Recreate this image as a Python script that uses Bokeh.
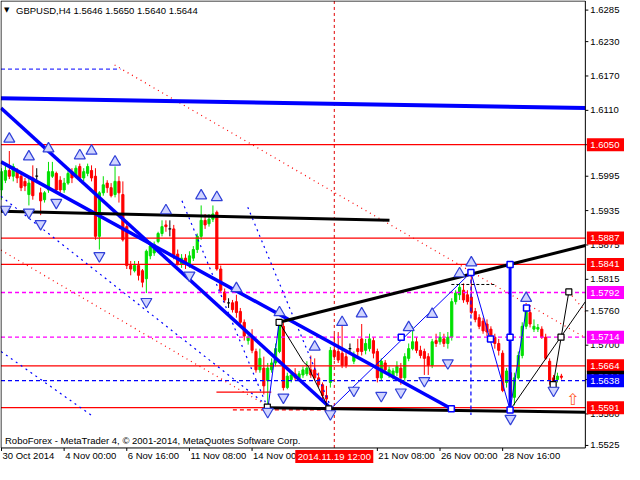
from bokeh.plotting import figure
from bokeh.models import Range1d
from bokeh.embed import file_html
from bokeh.resources import INLINE
from bokeh.core.properties import value

FONT = "Liberation Sans"
FS = "9.5px"

# ---------------- data: GBPUSD H4 candles (bar index 0 = 30 Oct 2014) ----------------
opens = [1.5971, 1.5988, 1.6005, 1.5995, 1.6003, 1.5995, 1.5986, 1.5963, 1.5992, 1.5995,
         1.5966, 1.5954, 1.5971, 1.5995, 1.6000, 1.5988, 1.5971, 1.5983, 1.6003, 1.5995,
         1.6012, 1.5992, 1.6000, 1.6005, 1.5995, 1.5890, 1.5966, 1.5983, 1.5975, 1.5963,
         1.5986, 1.5963, 1.5907, 1.5839, 1.5830, 1.5839, 1.5830, 1.5816, 1.5856, 1.5861,
         1.5881, 1.5895, 1.5910, 1.5903, 1.5903, 1.5859, 1.5842, 1.5852, 1.5842, 1.5852,
         1.5867, 1.5890, 1.5918, 1.5912, 1.5920, 1.5932, 1.5833, 1.5793, 1.5774, 1.5774,
         1.5776, 1.5759, 1.5740, 1.5708, 1.5714, 1.5689, 1.5657, 1.5660, 1.5638, 1.5657,
         1.5669, 1.5689, 1.5733, 1.5626, 1.5640, 1.5650, 1.5643, 1.5648, 1.5650, 1.5657,
         1.5657, 1.5643, 1.5631, 1.5612, 1.5635, 1.5691, 1.5689, 1.5686, 1.5680, 1.5694,
         1.5672, 1.5694, 1.5711, 1.5691, 1.5694, 1.5708, 1.5689, 1.5643, 1.5669, 1.5648,
         1.5646, 1.5652, 1.5660, 1.5643, 1.5677, 1.5694, 1.5706, 1.5691, 1.5689, 1.5680,
         1.5665, 1.5708, 1.5706, 1.5711, 1.5703, 1.5714, 1.5776, 1.5788, 1.5796, 1.5788,
         1.5784, 1.5759, 1.5748, 1.5742, 1.5737, 1.5728, 1.5714, 1.5703, 1.5686, 1.5635,
         1.5652, 1.5609, 1.5643, 1.5682, 1.5733, 1.5757, 1.5728, 1.5728, 1.5728, 1.5714,
         1.5672, 1.5643, 1.5640, 1.5646]
highs = [1.6009, 1.6014, 1.6039, 1.6017, 1.6009, 1.6003, 1.5992, 1.5992, 1.6014, 1.6009,
         1.5975, 1.5969, 1.6020, 1.6020, 1.6003, 1.5995, 1.5992, 1.6009, 1.6009, 1.6014,
         1.6017, 1.6009, 1.6017, 1.6014, 1.6009, 1.5969, 1.5995, 1.5988, 1.5983, 1.6012,
         1.5995, 1.5986, 1.5912, 1.5847, 1.5847, 1.5847, 1.5833, 1.5867, 1.5881, 1.5881,
         1.5898, 1.5918, 1.5918, 1.5918, 1.5910, 1.5867, 1.5859, 1.5859, 1.5864, 1.5873,
         1.5895, 1.5944, 1.5929, 1.5929, 1.5944, 1.5935, 1.5839, 1.5799, 1.5782, 1.5779,
         1.5788, 1.5765, 1.5745, 1.5720, 1.5728, 1.5694, 1.5694, 1.5680, 1.5669, 1.5677,
         1.5703, 1.5742, 1.5740, 1.5652, 1.5655, 1.5660, 1.5655, 1.5663, 1.5672, 1.5682,
         1.5677, 1.5652, 1.5635, 1.5629, 1.5697, 1.5720, 1.5723, 1.5737, 1.5691, 1.5703,
         1.5689, 1.5711, 1.5737, 1.5711, 1.5720, 1.5714, 1.5694, 1.5677, 1.5674, 1.5663,
         1.5660, 1.5672, 1.5669, 1.5686, 1.5703, 1.5733, 1.5714, 1.5699, 1.5694, 1.5686,
         1.5711, 1.5720, 1.5723, 1.5720, 1.5723, 1.5782, 1.5796, 1.5808, 1.5808, 1.5796,
         1.5827, 1.5765, 1.5754, 1.5748, 1.5745, 1.5733, 1.5720, 1.5711, 1.5691, 1.5660,
         1.5655, 1.5652, 1.5689, 1.5740, 1.5765, 1.5762, 1.5745, 1.5737, 1.5733, 1.5720,
         1.5677, 1.5648, 1.5652, 1.5650]
lows = [1.5954, 1.5983, 1.5990, 1.5986, 1.5983, 1.5969, 1.5969, 1.5944, 1.5954, 1.5983,
        1.5927, 1.5949, 1.5966, 1.5992, 1.5966, 1.5966, 1.5966, 1.5980, 1.5983, 1.5992,
        1.5986, 1.5986, 1.5995, 1.5986, 1.5884, 1.5867, 1.5961, 1.5966, 1.5958, 1.5958,
        1.5949, 1.5881, 1.5833, 1.5822, 1.5827, 1.5813, 1.5801, 1.5791, 1.5850, 1.5856,
        1.5878, 1.5890, 1.5898, 1.5890, 1.5850, 1.5839, 1.5835, 1.5833, 1.5835, 1.5847,
        1.5861, 1.5884, 1.5903, 1.5907, 1.5915, 1.5830, 1.5791, 1.5774, 1.5765, 1.5757,
        1.5748, 1.5731, 1.5708, 1.5701, 1.5686, 1.5652, 1.5652, 1.5614, 1.5592, 1.5652,
        1.5663, 1.5686, 1.5621, 1.5623, 1.5635, 1.5638, 1.5638, 1.5643, 1.5646, 1.5643,
        1.5638, 1.5626, 1.5606, 1.5589, 1.5626, 1.5674, 1.5669, 1.5660, 1.5660, 1.5686,
        1.5667, 1.5680, 1.5682, 1.5684, 1.5689, 1.5677, 1.5635, 1.5638, 1.5652, 1.5643,
        1.5640, 1.5646, 1.5631, 1.5638, 1.5672, 1.5691, 1.5686, 1.5677, 1.5648, 1.5648,
        1.5660, 1.5697, 1.5701, 1.5697, 1.5694, 1.5708, 1.5771, 1.5779, 1.5774, 1.5771,
        1.5754, 1.5740, 1.5728, 1.5720, 1.5716, 1.5706, 1.5694, 1.5682, 1.5618, 1.5626,
        1.5587, 1.5595, 1.5640, 1.5677, 1.5728, 1.5731, 1.5723, 1.5723, 1.5711, 1.5674,
        1.5631, 1.5629, 1.5635, 1.5640]
closes = [1.6003, 1.6005, 1.5995, 1.6012, 1.5992, 1.5975, 1.5978, 1.5983, 1.5961, 1.5995,
          1.5952, 1.5966, 1.6003, 1.6003, 1.5971, 1.5971, 1.5983, 1.6000, 1.5992, 1.6009,
          1.5992, 1.6003, 1.6012, 1.5992, 1.5890, 1.5966, 1.5980, 1.5975, 1.5961, 1.5986,
          1.5966, 1.5884, 1.5839, 1.5833, 1.5839, 1.5822, 1.5810, 1.5864, 1.5873, 1.5876,
          1.5895, 1.5907, 1.5907, 1.5903, 1.5856, 1.5842, 1.5852, 1.5842, 1.5856, 1.5867,
          1.5890, 1.5918, 1.5910, 1.5920, 1.5929, 1.5833, 1.5796, 1.5779, 1.5774, 1.5762,
          1.5757, 1.5740, 1.5716, 1.5714, 1.5691, 1.5657, 1.5677, 1.5629, 1.5660, 1.5669,
          1.5694, 1.5737, 1.5626, 1.5646, 1.5648, 1.5643, 1.5650, 1.5657, 1.5660, 1.5648,
          1.5643, 1.5631, 1.5612, 1.5606, 1.5691, 1.5680, 1.5674, 1.5665, 1.5665, 1.5694,
          1.5682, 1.5689, 1.5689, 1.5703, 1.5711, 1.5686, 1.5643, 1.5672, 1.5657, 1.5657,
          1.5655, 1.5663, 1.5643, 1.5680, 1.5694, 1.5706, 1.5691, 1.5682, 1.5677, 1.5665,
          1.5706, 1.5703, 1.5714, 1.5703, 1.5714, 1.5776, 1.5791, 1.5801, 1.5779, 1.5776,
          1.5757, 1.5745, 1.5733, 1.5725, 1.5723, 1.5711, 1.5703, 1.5691, 1.5621, 1.5655,
          1.5609, 1.5643, 1.5682, 1.5733, 1.5759, 1.5737, 1.5733, 1.5731, 1.5714, 1.5677,
          1.5638, 1.5631, 1.5646, 1.5644]
bars = list(range(len(opens)))

price_ticks = [1.6285, 1.6230, 1.6170, 1.6110, 1.6050, 1.5995, 1.5935, 1.5875,
               1.5815, 1.5760, 1.5700, 1.5640, 1.5580, 1.5525]
time_ticks = [0, 16, 32, 48, 64, 96, 112, 128]
time_labels = ["30 Oct 2014", "4 Nov 00:00", "6 Nov 16:00", "11 Nov 08:00",
               "14 Nov 00:00", "21 Nov 08:00", "26 Nov 00:00", "28 Nov 16:00"]

red_levels = [1.6050, 1.5887, 1.5841, 1.5664, 1.5591]
magenta_levels = [1.5792, 1.5714]
bid_level = 1.5638
last_price = 1.5644
crosshair_bar = 85
crosshair_text = "2014.11.19 12:00"
header_text = "GBPUSD,H4  1.5646 1.5650 1.5640 1.5644"
footer_text = "RoboForex - MetaTrader 4, \u00a9 2001-2014, MetaQuotes Software Corp."

# trend objects: (bars, prices)
top_blue_x, top_blue_y = [-0.125, 149.125], [1.6131, 1.6114]
top_blue_dash_x, top_blue_dash_y = [-0.125, 30.4], [1.6182, 1.6182]
red_dot_long_x, red_dot_long_y = [28.9, 149.1], [1.6189, 1.5713]
black_h_x, black_h_y = [-0.125, 99.1], [1.5934, 1.5918]
black_rise_x, black_rise_y = [70.9, 149.125], [1.5740, 1.5874]
black_bot_x, black_bot_y = [67.9, 149.125], [1.5591, 1.5583]
chan1_x, chan1_y = [-0.125, 84.1], [1.6114, 1.5590]
chan2_x, chan2_y = [-0.125, 114.9], [1.6020, 1.5589]
vert_x, vert_y = [129.9, 129.9], [1.5841, 1.5587]
wave_x, wave_y = [84.1, 119.9, 129.9, 134.1], [1.5589, 1.5827, 1.5587, 1.5765]
wave0_x, wave0_y = [68.1, 70.9], [1.5592, 1.5740]
vdash_x, vdash_y = [119.9, 119.9], [1.5827, 1.5578]
thin_blk_x, thin_blk_y = [70.9, 77.2, 78.4, 79.2, 83.6], [1.5740, 1.5670, 1.5663, 1.5650, 1.5589]
proj1_x, proj1_y = [129.9, 149.125], [1.5587, 1.5776]
proj2_x, proj2_y = [140.9, 144.9], [1.5631, 1.5793]
blk_dash_x, blk_dash_y = [114.9, 125.9], [1.5806, 1.5806]
red_dot_r_x, red_dot_r_y = [144.9, 149.1], [1.5793, 1.5759]
red_dot_l_x, red_dot_l_y = [-0.125, 68.4], [1.5866, 1.5592]
blue_dot_a_x, blue_dot_a_y = [-0.125, 68.4], [1.5960, 1.5592]
blue_dot_b_x, blue_dot_b_y = [-0.1, 22.9], [1.5689, 1.5578]
blue_dot_c_x, blue_dot_c_y = [46.1, 67.9], [1.5952, 1.5592]
blue_dot_d_x, blue_dot_d_y = [62.9, 84.1], [1.5941, 1.5592]
red_short_x, red_short_y = [54.9, 68.9], [1.5618, 1.5618]
red_sdash_x, red_sdash_y = [59.1, 84.1], [1.5587, 1.5587]

blue_sq_x = [102.1, 119.9, 124.9, 129.9, 129.9, 129.9, 134.1, 114.9]
blue_sq_y = [1.5714, 1.5827, 1.5711, 1.5841, 1.5714, 1.5587, 1.5765, 1.5589]
black_sq_x = [70.9, 83.6, 142.9, 140.9, 144.9, 67.9]
black_sq_y = [1.5740, 1.5589, 1.5714, 1.5631, 1.5793, 1.5592]

up_frac_x = [2, 7, 12, 20, 23, 29, 42, 51, 55, 60, 71, 80, 87, 92, 104, 110, 117, 120, 134]
up_frac_y = [1.6060, 1.6029, 1.6043, 1.6031, 1.6039, 1.6020, 1.5935, 1.5961, 1.5958, 1.5799,
             1.5757, 1.5697, 1.5740, 1.5755, 1.5731, 1.5754, 1.5825, 1.5844, 1.5782]
dn_frac_x = [1, 7, 10, 14, 25, 37, 48, 68, 72, 84, 90, 97, 102, 108, 114, 130, 141]
dn_frac_y = [1.5937, 1.5932, 1.5912, 1.5949, 1.5856, 1.5776, 1.5822, 1.5584, 1.5609, 1.5580,
             1.5621, 1.5612, 1.5618, 1.5638, 1.5669, 1.5572, 1.5621]
signal_x, signal_y = [145.9], [1.5606]

# ---------------- figure: chart window with price scale and time scale ----------------
CX0, CX1 = -0.125, 149.125          # chart window, bars
CY0, CY1 = 1.55206, 1.63009         # chart window, price
PX = 159.375 / 624                  # bars per screen pixel
PY = 0.081005 / 464                 # price per screen pixel
p = figure(width=624, height=464, output_backend="svg", toolbar_location=None,
           x_range=Range1d(CX0 - 0.5 * PX, CX0 - 0.5 * PX + 624 * PX),
           y_range=Range1d(CY1 + 0.5 * PY - 464 * PY, CY1 + 0.5 * PY),
           x_axis_location=None, y_axis_location=None)
p.min_border_left = p.min_border_right = p.min_border_top = p.min_border_bottom = 0
p.outline_line_color = None
p.xgrid.visible = False
p.ygrid.visible = False
p.background_fill_color = "white"
p.border_fill_color = "white"

# ---------------- candles ----------------
def cols(idx):
    return dict(x=[bars[i] for i in idx],
                top=[max(opens[i], closes[i]) for i in idx],
                bottom=[min(opens[i], closes[i]) for i in idx],
                high=[highs[i] for i in idx],
                low=[lows[i] for i in idx])

up_idx = [i for i in bars if closes[i] > opens[i]]
dn_idx = [i for i in bars if closes[i] < opens[i]]
dj_idx = [i for i in bars if closes[i] == opens[i]]
GREEN, RED = "#00e000", "#ff0000"
for idx, col in ((up_idx, GREEN), (dn_idx, RED), (dj_idx, "black")):
    d = cols(idx)
    p.segment(x0=d["x"], y0=d["low"], x1=d["x"], y1=d["high"], line_color=col, line_width=1)
    if col == "black":
        p.segment(x0=[x - 0.35 for x in d["x"]], y0=d["top"], x1=[x + 0.35 for x in d["x"]],
                  y1=d["top"], line_color=col, line_width=1.2)
    else:
        p.vbar(x=d["x"], width=0.55, top=d["top"], bottom=d["bottom"],
               fill_color=col, line_color=col, line_width=1)

# ---------------- objects ----------------
def ln(xs, ys, color, width, dash="solid"):
    p.line(xs, ys, line_color=color, line_width=width, line_dash=dash)

def hline(level, color, dash="solid"):
    ln([CX0, CX1], [level, level], color, 1.3, dash)

for lv in red_levels:
    hline(lv, "#ff0000")
for lv in magenta_levels:
    hline(lv, "#ff00ff", "4 3")
hline(bid_level, "#0000ff", "4 3")
ln([crosshair_bar, crosshair_bar], [CY0, CY1], "#e00000", 1, "3 3")

ln(red_dot_l_x, red_dot_l_y, "red", 1.2, "1 4")
ln(blue_dot_a_x, blue_dot_a_y, "#0000ff", 1.2, "2 4")
ln(blue_dot_b_x, blue_dot_b_y, "#0000ff", 1.2, "2 4")
ln(blue_dot_c_x, blue_dot_c_y, "#0000ff", 1.2, "2 4")
ln(blue_dot_d_x, blue_dot_d_y, "#0000ff", 1.2, "2 4")
ln(red_dot_long_x, red_dot_long_y, "red", 1.2, "1 4")
ln(red_dot_r_x, red_dot_r_y, "red", 1.2, "1 4")
ln(top_blue_dash_x, top_blue_dash_y, "#0000ff", 1, "4 3")
ln(red_short_x, red_short_y, "red", 1.2)
ln(red_sdash_x, red_sdash_y, "red", 1.2, "4 3")
ln(top_blue_x, top_blue_y, "#0000ff", 4)
ln(chan1_x, chan1_y, "#0000ff", 3.5)
ln(chan2_x, chan2_y, "#0000ff", 3.5)
ln(black_h_x, black_h_y, "black", 3)
ln(black_rise_x, black_rise_y, "black", 3)
ln(black_bot_x, black_bot_y, "black", 3)
ln(vert_x, vert_y, "#0000ff", 3)
ln(vdash_x, vdash_y, "#0000ff", 1.2, "4 3")
ln(wave_x, wave_y, "#0000ff", 1)
ln(wave0_x, wave0_y, "#0000ff", 1)
ln(thin_blk_x, thin_blk_y, "black", 1)
ln(proj1_x, proj1_y, "black", 1)
ln(proj2_x, proj2_y, "black", 1)
ln(blk_dash_x, blk_dash_y, "black", 1, "3 2")

p.scatter(blue_sq_x, blue_sq_y, marker="square", size=6, fill_color="white",
          line_color="#0000ff", line_width=1.5)
p.scatter(black_sq_x, black_sq_y, marker="square", size=6, fill_color="white",
          line_color="black", line_width=1.2)

p.scatter(up_frac_x, up_frac_y, marker="triangle", size=11, fill_color="#d0d4ff",
          line_color="#3040d8", line_width=1.2)
p.scatter(dn_frac_x, dn_frac_y, marker="inverted_triangle", size=11, fill_color="#d0d4ff",
          line_color="#3040d8", line_width=1.2)
p.text(signal_x, signal_y, text=["\u21e7"], text_color="#ff5a28",
       text_font=value("DejaVu Sans"), text_font_size="16px",
       text_align="center", text_baseline="middle")

# ---------------- chart window border ----------------
p.quad(left=[CX0], right=[CX1], bottom=[CY0], top=[CY1], fill_color=None,
       line_color="black", line_width=1)

# ---------------- price scale (right) ----------------
p.segment(x0=[CX1] * len(price_ticks), y0=price_ticks,
          x1=[CX1 + 3 * PX] * len(price_ticks), y1=price_ticks, line_color="black")
p.text([CX1 + 5 * PX] * len(price_ticks), price_ticks,
       text=[f"{t:.4f}" for t in price_ticks], text_font=value(FONT),
       text_font_size=FS, text_color="black", text_align="left", text_baseline="middle")

# ---------------- time scale (bottom) ----------------
p.segment(x0=time_ticks, y0=[CY0] * len(time_ticks), x1=time_ticks,
          y1=[CY0 - 3 * PY] * len(time_ticks), line_color="black")
p.text([t + 1 * PX for t in time_ticks], [CY0 - 2 * PY] * len(time_ticks),
       text=time_labels, text_font=value(FONT), text_font_size=FS,
       text_color="black", text_align="left", text_baseline="top")

# ---------------- price tags ----------------
def tag(level, bg):
    p.quad(left=[CX1 + 1.5 * PX], right=[CX1 + 45 * PX],
           bottom=[level - 6.5 * PY], top=[level + 6.5 * PY],
           fill_color=bg, line_color=None)
    p.text([CX1 + 5 * PX], [level], text=[f"{level:.4f}"], text_font=value(FONT),
           text_font_size=FS, text_color="white", text_align="left", text_baseline="middle")

for lv in red_levels:
    tag(lv, "#ff0000")
for lv in magenta_levels:
    tag(lv, "#ff00ff")
tag(last_price, "black")
tag(bid_level, "#0000ff")

# crosshair time tag
p.quad(left=[crosshair_bar - 39 * PX], right=[crosshair_bar + 39 * PX],
       bottom=[CY0 - 15 * PY], top=[CY0 - 2 * PY], fill_color="#ff0000", line_color=None)
p.text([crosshair_bar], [CY0 - 8.5 * PY], text=[crosshair_text], text_font=value(FONT),
       text_font_size=FS, text_color="white", text_align="center", text_baseline="middle")

# ---------------- header / footer ----------------
p.text([CX0 + 3 * PX], [CY1 - 9 * PY], text=["\u25bc"], text_font=value("DejaVu Sans"),
       text_font_size="7px", text_color="black", text_align="left", text_baseline="middle")
p.text([CX0 + 15 * PX], [CY1 - 9 * PY], text=[header_text], text_font=value(FONT),
       text_font_size=FS, text_color="black", text_align="left", text_baseline="middle")
p.text([CX0 + 4 * PX], [CY0 + 7 * PY], text=[footer_text], text_font=value(FONT),
       text_font_size=FS, text_color="black", text_align="left", text_baseline="middle")

open("out.html", "w").write(file_html(p, INLINE))
